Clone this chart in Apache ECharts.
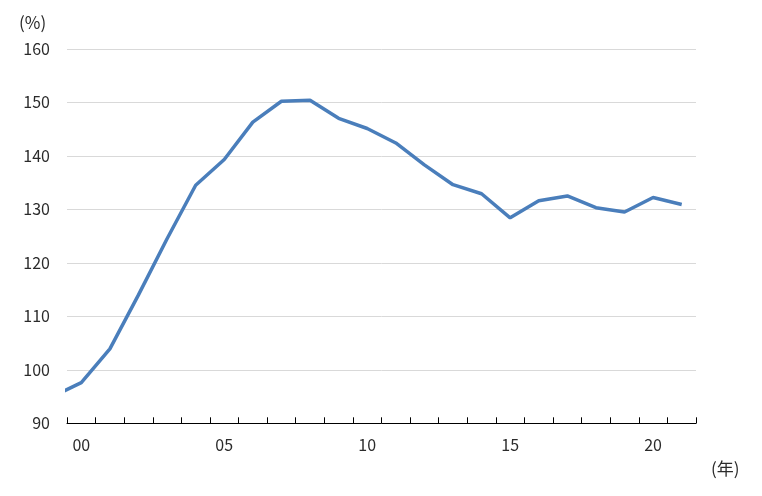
<!DOCTYPE html>
<html>
<head>
<meta charset="utf-8">
<script src="https://cdn.jsdelivr.net/npm/echarts@6/dist/echarts.min.js"></script>
<style>
html,body{margin:0;padding:0;background:#fff;}
#chart{width:762px;height:496px;}
</style>
</head>
<body>
<div id="chart"></div>
<script>
// Categories shown on the axis (2000–2021)
const categories = ['00','01','02','03','04','05','06','07','08','09','10','11','12','13','14','15','16','17','18','19','20','21'];
// Years of the data points (1999 point lies just outside the left edge and is clipped)
const years = [1999,2000,2001,2002,2003,2004,2005,2006,2007,2008,2009,2010,2011,2012,2013,2014,2015,2016,2017,2018,2019,2020,2021];
const values = [95.0,97.6,103.9,114.0,124.5,134.5,139.3,146.3,150.2,150.4,147.0,145.1,142.4,138.3,134.6,132.9,128.4,131.6,132.5,130.3,129.5,132.2,130.9];
const yTicks = [90,100,110,120,130,140,150,160];

const font = '"Noto Sans CJK JP", "Noto Sans", sans-serif';
const textColor = '#2b2b2b';

const chart = echarts.init(document.getElementById('chart'), null, {renderer:'canvas'});
chart.setOption({
  animation:false,
  backgroundColor:'#ffffff',
  grid:{left:67, right:66, top:48.8, bottom:72.7, containLabel:false},
  xAxis:[{
    type:'category',
    data:categories,
    boundaryGap:true,
    axisLine:{show:true, lineStyle:{color:'#000000', width:1}},
    axisTick:{show:true, inside:true, length:6, interval:0, lineStyle:{color:'#000000', width:1}},
    axisLabel:{
      interval:function(i){return i%5===0;},
      color:textColor, fontFamily:font, fontSize:16, margin:14
    },
    splitLine:{show:false}
  },{
    type:'value',
    min:-0.5, max:21.5,
    show:false,
    splitLine:{show:false}
  }],
  yAxis:{
    type:'value',
    min:yTicks[0], max:yTicks[yTicks.length-1], interval:10,
    axisLine:{show:false},
    axisTick:{show:false},
    axisLabel:{color:textColor, fontFamily:font, fontSize:16, margin:17},
    splitLine:{show:true, lineStyle:{color:'#d9d9d9', width:1}}
  },
  graphic:[
    {type:'text', left:19, top:14, style:{text:'(%)', fill:textColor, font:'17px ' + font}},
    {type:'text', left:711, top:460, style:{text:'(年)', fill:textColor, font:'17px ' + font}}
  ],
  series:[{
    type:'line',
    xAxisIndex:1,
    data:years.map((y,i)=>[y-2000, values[i]]),
    symbol:'none',
    clip:true,
    lineStyle:{color:'#4A7EBB', width:3.5},
    z:3
  }]
});
</script>
</body>
</html>
